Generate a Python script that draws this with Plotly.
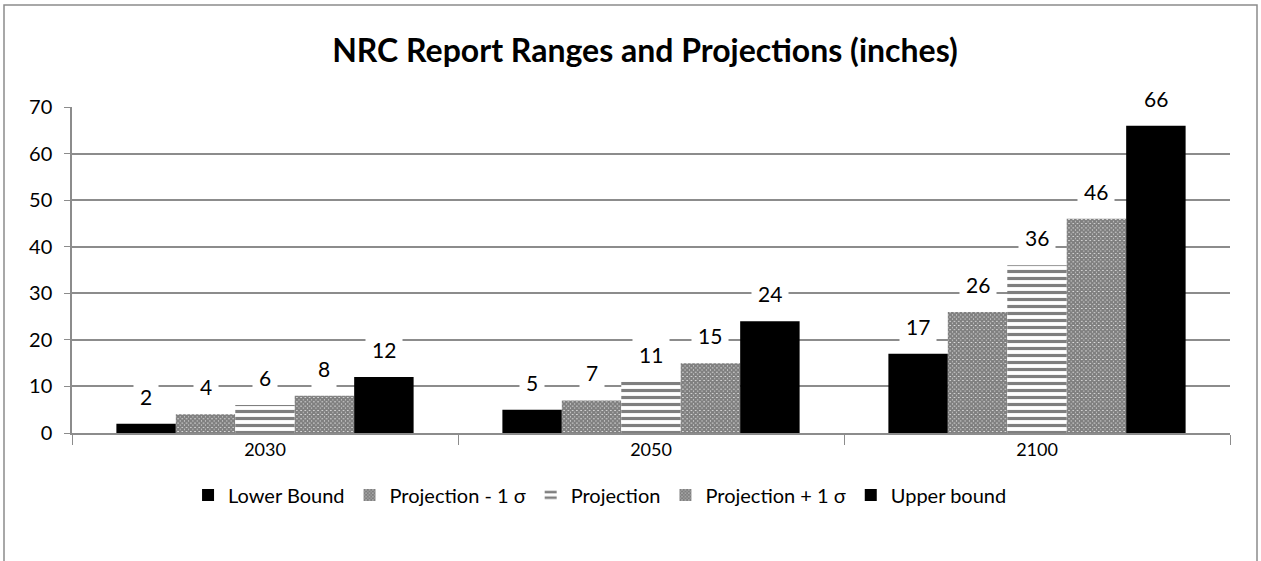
import plotly.graph_objects as go

YEARS = ["2030", "2050", "2100"]
SERIES = ["Lower Bound", "Projection - 1 σ", "Projection", "Projection + 1 σ", "Upper bound"]
LOWER = [2, 5, 17]
PROJ_MINUS = [4, 7, 26]
PROJ = [6, 11, 36]
PROJ_PLUS = [8, 15, 46]
UPPER = [12, 24, 66]

VALUES = [LOWER, PROJ_MINUS, PROJ, PROJ_PLUS, UPPER]
PATTERNS = ["", "x", "-", "x", ""]

W, H = 1261, 561
M = dict(l=72, r=31, t=107, b=128)
BARGAP = 0.23
FONT = "Lato"
GRID = "#8c8c8c"

fig = go.Figure()
for name, vals, pat in zip(SERIES, VALUES, PATTERNS):
    if pat == "x":
        pattern = dict(shape="x", fgcolor="black", bgcolor="white", size=3, solidity=0.9)
    elif pat == "-":
        pattern = dict(shape="-", fgcolor="black", bgcolor="white", size=7, solidity=0.45)
    else:
        pattern = None
    fig.add_trace(
        go.Bar(
            x=YEARS,
            y=vals,
            name=name,
            marker=dict(
                color="black" if pat == "" else "white",
                line=dict(width=0),
                pattern=pattern,
            ),
        )
    )

# data labels with white boxes over the grid
# (category axis: annotation x given as the category index)
plot_w = W - M["l"] - M["r"]
cat_w = plot_w / len(YEARS)
bar_w = cat_w * (1 - BARGAP) / len(SERIES)
for i, vals in enumerate(VALUES):
    for j, v in enumerate(vals):
        fig.add_annotation(
            x=j,
            y=v,
            text=str(v),
            showarrow=False,
            xshift=(i - 2) * bar_w,
            yanchor="bottom",
            yshift=8,
            bgcolor="white",
            borderpad=6,
            font=dict(family=FONT, size=21, color="black"),
        )

# outer chart border
plot_h = H - M["t"] - M["b"]
fig.add_shape(
    type="rect",
    xref="paper",
    yref="paper",
    x0=-(M["l"] - 4) / plot_w,
    x1=1 + (M["r"] - 4) / plot_w,
    y0=-(M["b"] + 20) / plot_h,
    y1=1 + (M["t"] - 5) / plot_h,
    line=dict(color="#8c8c8c", width=1.5),
    layer="below",
)

fig.update_layout(
    width=W,
    height=H,
    margin=M,
    barmode="group",
    bargap=BARGAP,
    bargroupgap=0,
    plot_bgcolor="white",
    paper_bgcolor="white",
    font=dict(family=FONT, size=19, color="black"),
    title=dict(
        text="<b>NRC Report Ranges and Projections (inches)</b>",
        x=(645 - M["l"]) / plot_w,
        xref="paper",
        xanchor="center",
        y=0.91,
        yanchor="middle",
        font=dict(family=FONT, size=32, color="black"),
    ),
    legend=dict(
        orientation="h",
        x=0.456,
        xanchor="center",
        y=-0.13,
        yanchor="top",
        font=dict(family=FONT, size=20),
        itemwidth=30,
        itemsizing="constant",
    ),
    showlegend=True,
)
fig.update_xaxes(
    type="category",
    range=[-0.5, len(YEARS) - 0.5],
    showline=True,
    linecolor=GRID,
    linewidth=1.5,
    ticks="outside",
    tickson="boundaries",
    ticklen=10,
    tickcolor=GRID,
    showgrid=False,
    tickfont=dict(family=FONT, size=18),
)
fig.update_yaxes(
    range=[0, 70],
    dtick=10,
    showline=True,
    linecolor=GRID,
    linewidth=1.5,
    ticks="outside",
    ticklen=6,
    tickcolor=GRID,
    ticklabelstandoff=8,
    gridcolor=GRID,
    gridwidth=1.5,
    zeroline=False,
    tickfont=dict(family=FONT, size=20),
)

# page body has a default margin; drop it so the figure sits at the window origin
fig.write_html(
    "out.html",
    config={"displayModeBar": False},
    post_script="document.body.style.margin='0';",
)
